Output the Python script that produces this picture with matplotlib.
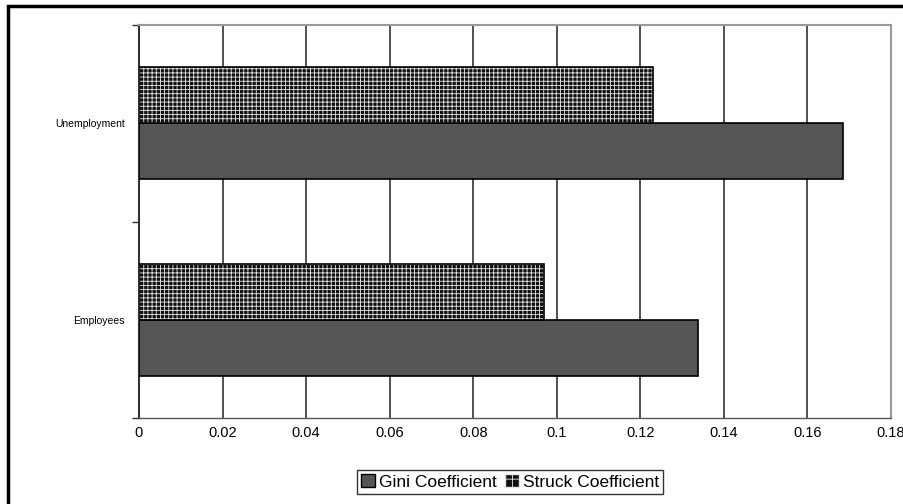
import matplotlib.pyplot as plt
from matplotlib.patches import Rectangle, Patch
import numpy as np

plt.rcParams["font.family"] = ["Liberation Sans", "DejaVu Sans"]
plt.rcParams["hatch.linewidth"] = 0.6

# coefficients per group
categories = ["Employees", "Unemployment"]
gini = [0.1337, 0.1686]
struck = [0.097, 0.123]
xticks = [0, 0.02, 0.04, 0.06, 0.08, 0.1, 0.12, 0.14, 0.16, 0.18]
xtick_labels = ["0", "0.02", "0.04", "0.06", "0.08", "0.1", "0.12", "0.14", "0.16", "0.18"]

fig = plt.figure(figsize=(9.04, 5.04), dpi=100)
ax = fig.add_axes([139 / 904, 86 / 504, 752 / 904, 393 / 504])

y = np.arange(len(categories))
h = 0.285

# Gini bars below, struck bars above
ax.barh(y - h / 2, gini, height=h, color="#555555", edgecolor="black",
        linewidth=1.2, zorder=3)
ax.barh(y + h / 2, struck, height=h, color="#111111", edgecolor="#e6e6e6",
        hatch="++++", linewidth=0, zorder=3)
ax.barh(y + h / 2, struck, height=h, fill=False, edgecolor="black",
        linewidth=1.2, zorder=4)

ax.set_xlim(0, 0.18)
ax.set_ylim(-0.5, 1.5)
ax.set_xticks(xticks)
ax.set_xticklabels(xtick_labels, fontsize=10.5)
ax.tick_params(axis="x", length=0, pad=6)

ax.set_yticks(y)
ax.set_yticklabels(categories, fontsize=7.5)
ax.tick_params(axis="y", which="major", length=0, pad=10)
ax.set_yticks([-0.5, 0.5, 1.5], minor=True)
ax.tick_params(axis="y", which="minor", length=5, width=1, color="#333333")

ax.grid(axis="x", color="#333333", linewidth=1.2, zorder=1)
ax.set_axisbelow(True)

for side in ["top", "right"]:
    ax.spines[side].set_color("#999999")
    ax.spines[side].set_linewidth(1.5)
ax.spines["left"].set_color("#333333")
ax.spines["left"].set_linewidth(1.5)
ax.spines["bottom"].set_color("#555555")
ax.spines["bottom"].set_linewidth(1.0)

# outer chart frame
fig.patches.append(Rectangle((8 / 904, -0.05), 1.1, (504 - 6) / 504 + 0.05,
                             transform=fig.transFigure, fill=False,
                             edgecolor="black", linewidth=2.5))

handles = [
    Patch(facecolor="#555555", edgecolor="black", label="Gini Coefficient"),
    Patch(facecolor="#111111", edgecolor="#e6e6e6", hatch="++", label="Struck Coefficient"),
]
fig.legend(handles=handles, loc="center", bbox_to_anchor=(510 / 904, 22 / 504),
           ncol=2, fontsize=12.5, frameon=True, fancybox=False, edgecolor="black",
           handlelength=0.8, handleheight=0.8, handletextpad=0.2, columnspacing=0.5,
           borderpad=0.25)

fig.savefig("out.png", dpi=100)
